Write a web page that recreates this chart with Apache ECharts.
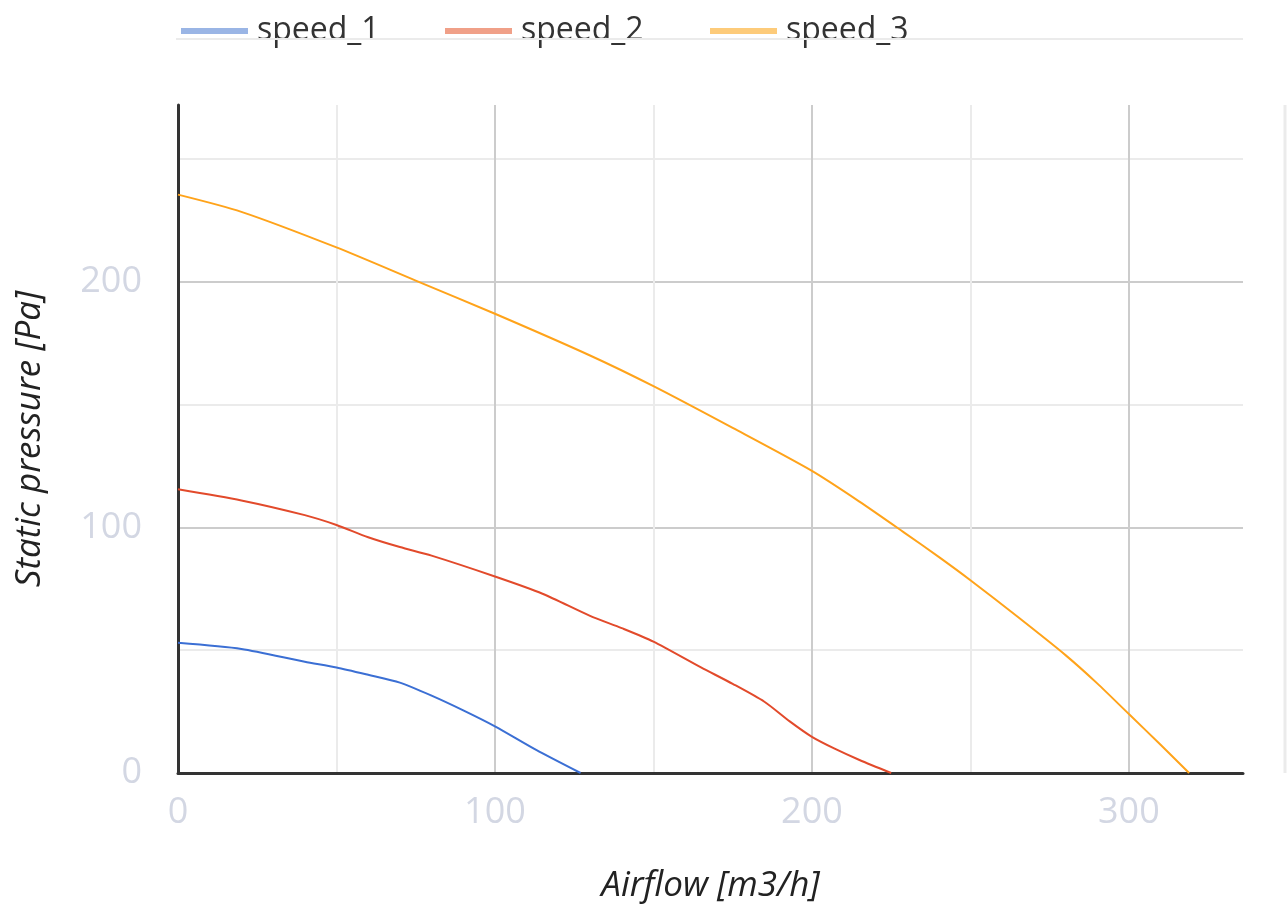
<!DOCTYPE html>
<html>
<head>
<meta charset="utf-8">
<script src="https://cdn.jsdelivr.net/npm/echarts@6/dist/echarts.min.js"></script>
<style>
html,body{margin:0;padding:0;background:#fff;}
#chart{width:1287px;height:911px;}
</style>
</head>
<body>
<div id="chart"></div>
<script>
// Data: [airflow m3/h, static pressure Pa]
const seriesNames = ['speed_1', 'speed_2', 'speed_3'];
const speed1 = [[0,53],[20,50.5],[40,45.3],[50,43],[60,40],[70,36.8],[80,31.5],[90,25.5],[100,19],[113,9.4],[127,0]];
const speed2 = [[0,115.5],[20,111],[40,105],[50,101],[60,96],[70,92],[80,88.5],[100,80],[115,73],[130,64],[140,59],[150,53.5],[165,43],[175,36.3],[185,29],[193,21],[200,14.7],[207,10],[215,5.3],[225,0]];
const speed3 = [[0,235.5],[20,228.5],[50,214],[75,200.5],[100,187],[130,170],[150,157.5],[175,140.5],[200,123],[215,110.5],[229,98],[240,88],[250,78.5],[265,63.5],[280,48],[290,36.5],[300,24],[310,11.5],[319,0]];
const xTicks = [0, 100, 200, 300];
const yTicks = [0, 100, 200];
const lineColors = ['#3b6fd4', '#e24a2b', '#ffa31a'];
const legendColors = ['#9ab5e5', '#f0a088', '#fdcb7a'];
const xTitle = 'Airflow [m3/h]';
const yTitle = 'Static pressure [Pa]';

const chart = echarts.init(document.getElementById('chart'), null, {renderer: 'canvas'});
const FONT = 'Open Sans';
const legendLefts = [176, 440, 705];
const legends = seriesNames.map((n, i) => ({
  left: legendLefts[i], top: 10,
  icon: 'rect', itemWidth: 67, itemHeight: 6, itemGap: 0,
  textStyle: {fontFamily: FONT, fontSize: 32, color: '#333', padding: [0, 0, 0, 4]},
  data: [{name: n, itemStyle: {color: legendColors[i]}}]
}));
const datas = [speed1, speed2, speed3];
chart.setOption({
  animation: false,
  legend: legends,
  grid: {left: 178, right: 44, top: 105, bottom: 138, containLabel: false},
  xAxis: {
    type: 'value', min: 0, max: 336, interval: 50,
    name: xTitle, nameLocation: 'middle', nameGap: 96,
    nameTextStyle: {fontFamily: FONT, fontSize: 35, fontStyle: 'italic', color: '#222'},
    axisLine: {show: true, onZero: false, lineStyle: {color: '#333', width: 3}},
    axisTick: {show: false},
    axisLabel: {fontFamily: FONT, fontSize: 36, color: '#d3d7e3', margin: 22, showMaxLabel: false,
      formatter: v => xTicks.indexOf(v) >= 0 ? String(v) : ''},
    splitLine: {show: true, showMinLine: false, showMaxLine: false, lineStyle: {color: ['#ebebeb', '#cccccc'], width: 2}}
  },
  yAxis: {
    type: 'value', min: 0, max: 272, interval: 50,
    name: yTitle, nameLocation: 'middle', nameGap: 130,
    nameTextStyle: {fontFamily: FONT, fontSize: 35, fontStyle: 'italic', color: '#222'},
    axisLine: {show: true, onZero: false, lineStyle: {color: '#333', width: 3}},
    axisTick: {show: false},
    axisLabel: {fontFamily: FONT, fontSize: 36, color: '#d3d7e3', margin: 36, showMaxLabel: false,
      formatter: v => yTicks.indexOf(v) >= 0 ? String(v) : ''},
    splitLine: {show: true, showMinLine: false, showMaxLine: false, lineStyle: {color: ['#ebebeb', '#cccccc'], width: 2}}
  },
  graphic: [
    {type: 'line', z: 100, shape: {x1: 176, y1: 39, x2: 1243, y2: 39}, style: {stroke: '#ebebeb', lineWidth: 2}},
    {type: 'line', z: 100, shape: {x1: 1285, y1: 105, x2: 1285, y2: 773}, style: {stroke: '#ebebeb', lineWidth: 3}}
  ],
  series: datas.map((d, i) => ({
    name: seriesNames[i], type: 'line', data: d, symbol: 'none', smooth: 0.25,
    lineStyle: {color: lineColors[i], width: 2},
    itemStyle: {color: lineColors[i]}
  }))
});
</script>
</body>
</html>
